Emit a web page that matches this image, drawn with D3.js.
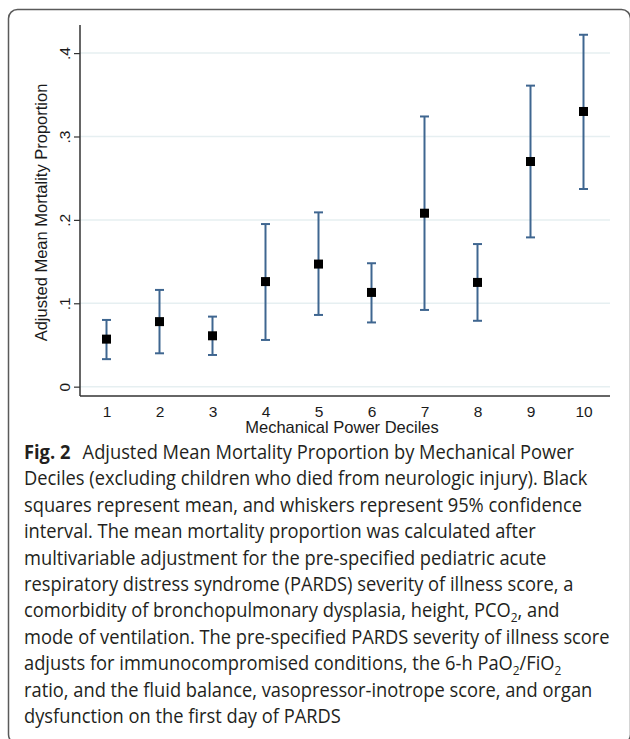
<!DOCTYPE html>
<html lang="en">
<head>
<meta charset="UTF-8">
<title>Adjusted Mean Mortality Proportion</title>
<script src="https://d3js.org/d3.v7.min.js"></script>
<style>
    body {
        margin: 0;
        padding: 0;
        background: #fff;
    }
    svg {
        display: block;
    }
    .axis-text {
        font-family: 'Liberation Sans', Arial, sans-serif;
        fill: #1a1a1a;
    }
    .caption {
        font-family: 'Open Sans', 'Noto Sans', sans-serif;
        font-size: 20px;
        fill: #231f20;
    }
</style>
</head>
<body>
<svg id="chart" width="630" height="739"></svg>
<script>
    // deciles and the adjusted mean with its 95% CI
    const deciles = [1, 2, 3, 4, 5, 6, 7, 8, 9, 10];
    const means = [0.057, 0.078, 0.061, 0.126, 0.147, 0.113, 0.208, 0.125, 0.270, 0.330];
    const lower = [0.033, 0.040, 0.038, 0.056, 0.086, 0.077, 0.092, 0.079, 0.179, 0.237];
    const upper = [0.080, 0.116, 0.084, 0.195, 0.209, 0.148, 0.324, 0.171, 0.361, 0.422];

    const yTicks = [0, 0.1, 0.2, 0.3, 0.4];
    const yTickLabels = ["0", ".1", ".2", ".3", ".4"];

    const yTitle = "Adjusted Mean Mortality Proportion";
    const xTitle = "Mechanical Power Deciles";

    const captionLabel = "Fig. 2";
    // "_2" marks a subscript
    const captionLines = [
        "Adjusted Mean Mortality Proportion by Mechanical Power",
        "Deciles (excluding children who died from neurologic injury). Black",
        "squares represent mean, and whiskers represent 95% confidence",
        "interval. The mean mortality proportion was calculated after",
        "multivariable adjustment for the pre-specified pediatric acute",
        "respiratory distress syndrome (PARDS) severity of illness score, a",
        "comorbidity of bronchopulmonary dysplasia, height, PCO_2, and",
        "mode of ventilation. The pre-specified PARDS severity of illness score",
        "adjusts for immunocompromised conditions, the 6-h PaO_2/FiO_2",
        "ratio, and the fluid balance, vasopressor-inotrope score, and organ",
        "dysfunction on the first day of PARDS"
    ];

    const svg = d3.select("#chart");

    // outer rounded frame (runs off the right and bottom edge)
    svg.append("rect")
        .attr("x", 8.5).attr("y", 9.5)
        .attr("width", 622).attr("height", 734)
        .attr("rx", 9).attr("ry", 9)
        .attr("fill", "none")
        .attr("stroke", "#5a5a5a")
        .attr("stroke-width", 1.5);

    const plot = { left: 80, right: 610, top: 25, bottom: 396 };

    const x = d3.scaleLinear().domain([0.5, 10.5]).range([plot.left, plot.right]);
    const y = d3.scaleLinear().domain([-0.0112, 0.4337]).range([plot.bottom, plot.top]);

    // gridlines
    svg.append("g")
        .selectAll("line")
        .data(yTicks)
        .enter()
        .append("line")
        .attr("x1", plot.left).attr("x2", plot.right)
        .attr("y1", d => y(d)).attr("y2", d => y(d))
        .attr("stroke", "#e6eff1")
        .attr("stroke-width", 1.5);

    // y axis
    const yAxis = d3.axisLeft(y)
        .tickValues(yTicks)
        .tickFormat((d, i) => yTickLabels[i])
        .tickSize(6)
        .tickPadding(4);

    const gy = svg.append("g")
        .attr("transform", `translate(${plot.left},0)`)
        .call(yAxis);
    gy.select(".domain").remove();
    gy.selectAll(".tick line").attr("stroke", "#333").attr("stroke-width", 1.2);
    gy.selectAll(".tick text")
        .attr("class", "axis-text")
        .attr("font-size", 15.5)
        .attr("x", null).attr("dy", null)
        .attr("text-anchor", "middle")
        .attr("transform", "translate(-10,0) rotate(-90)")
        .attr("y", 0);

    svg.append("line")
        .attr("x1", plot.left).attr("x2", plot.left)
        .attr("y1", plot.top).attr("y2", plot.bottom)
        .attr("stroke", "#333").attr("stroke-width", 1.5);

    // x axis: labels only, no tick marks
    const xAxis = d3.axisBottom(x)
        .tickValues(deciles)
        .tickFormat(d3.format("d"))
        .tickSize(0)
        .tickPadding(10);

    const gx = svg.append("g")
        .attr("transform", `translate(0,${plot.bottom})`)
        .call(xAxis);
    gx.select(".domain").remove();
    gx.selectAll(".tick text")
        .attr("class", "axis-text")
        .attr("font-size", 15.5);

    svg.append("line")
        .attr("x1", plot.left).attr("x2", plot.right)
        .attr("y1", plot.bottom).attr("y2", plot.bottom)
        .attr("stroke", "#333").attr("stroke-width", 1.5);

    // axis titles
    svg.append("text")
        .attr("class", "axis-text")
        .attr("font-size", 16.5)
        .attr("text-anchor", "middle")
        .attr("transform", `translate(47,${(plot.top + plot.bottom) / 2 + 2}) rotate(-90)`)
        .text(yTitle);

    svg.append("text")
        .attr("class", "axis-text")
        .attr("font-size", 16.5)
        .attr("text-anchor", "middle")
        .attr("x", (plot.left + plot.right) / 2 - 3)
        .attr("y", 433)
        .text(xTitle);

    // whiskers
    const ciColor = "#3f6690";
    const capHalf = 4.5;
    const rows = deciles.map((d, i) => ({ d, m: means[i], lo: lower[i], hi: upper[i] }));

    const ci = svg.append("g").attr("stroke", ciColor).attr("stroke-width", 2);
    ci.selectAll(".stem")
        .data(rows).enter().append("line")
        .attr("x1", r => x(r.d)).attr("x2", r => x(r.d))
        .attr("y1", r => y(r.lo)).attr("y2", r => y(r.hi));
    ci.selectAll(".cap-lo")
        .data(rows).enter().append("line")
        .attr("x1", r => x(r.d) - capHalf).attr("x2", r => x(r.d) + capHalf)
        .attr("y1", r => y(r.lo)).attr("y2", r => y(r.lo));
    ci.selectAll(".cap-hi")
        .data(rows).enter().append("line")
        .attr("x1", r => x(r.d) - capHalf).attr("x2", r => x(r.d) + capHalf)
        .attr("y1", r => y(r.hi)).attr("y2", r => y(r.hi));

    // mean squares
    const sq = 9;
    svg.append("g")
        .selectAll("rect")
        .data(rows).enter().append("rect")
        .attr("x", r => x(r.d) - sq / 2)
        .attr("y", r => y(r.m) - sq / 2)
        .attr("width", sq).attr("height", sq)
        .attr("fill", "#000");

    // caption
    const cap = svg.append("g").attr("class", "caption");
    const capX = 24, capY0 = 459, capStep = 26.4;

    const lineNodes = captionLines.map((line, i) => {
        const t = cap.append("text").attr("x", 0).attr("y", capY0 + i * capStep);
        if (i === 0) {
            t.append("tspan").attr("font-weight", 700).text(captionLabel + "\u2002\u2009");
        }
        let shift = 0;
        line.split(/(_\d)/).forEach(part => {
            if (!part) return;
            if (part[0] === "_") {
                t.append("tspan").attr("font-size", 13).attr("dy", 5).text(part.slice(1));
                shift = -5;
            } else {
                t.append("tspan").attr("dy", shift || null).text(part);
                shift = 0;
            }
        });
        return t;
    });

    // squeeze the caption horizontally to the width of the original typesetting
    const widest = d3.max(lineNodes, t => t.node().getComputedTextLength());
    const sx = 586 / widest;
    cap.attr("transform", `translate(${capX},0) scale(${sx},1)`);
</script>
</body>
</html>
